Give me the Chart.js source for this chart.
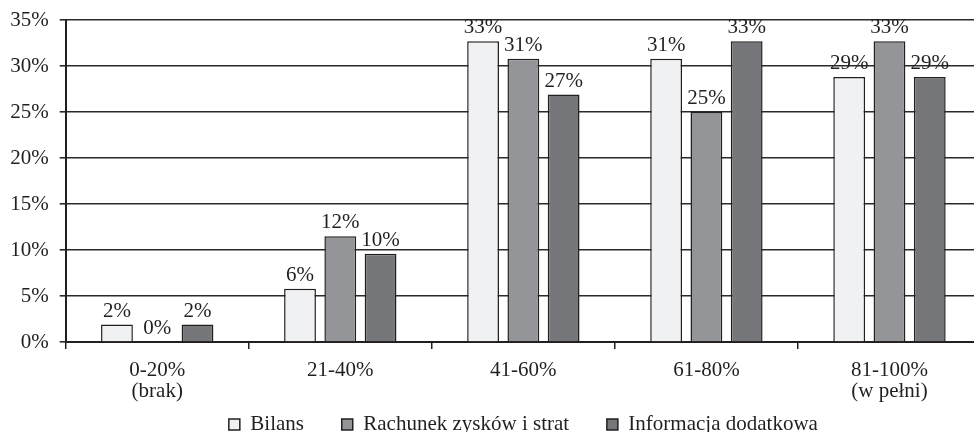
<!DOCTYPE html>
<html>
<head>
<meta charset="utf-8">
<script src="https://cdn.jsdelivr.net/npm/chart.js@4/dist/chart.umd.min.js"></script>
<style>
  body { margin: 0; overflow: hidden; background: #fff; }
  #wrap { width: 1046px; height: 432px; }
</style>
</head>
<body>
<div id="wrap"><canvas id="chart" width="1046" height="432"></canvas></div>
<script>
const categories = [['0-20%', '(brak)'], '21-40%', '41-60%', '61-80%', ['81-100%', '(w pełni)']];
const bilans = [1.9, 5.8, 32.7, 30.8, 28.8];
const rachunek = [0, 11.5, 30.8, 25.0, 32.7];
const informacja = [1.9, 9.6, 26.9, 32.7, 28.8];
const seriesNames = ['Bilans', 'Rachunek zysków i strat', 'Informacja dodatkowa'];
const yTicks = [0, 5, 10, 15, 20, 25, 30, 35];

const ink = '#231f20';
const serif = '"Liberation Serif", "Times New Roman", serif';

// value labels above each bar
const barLabels = {
  id: 'barLabels',
  afterDatasetsDraw(chart) {
    const ctx = chart.ctx;
    ctx.save();
    ctx.font = '21px ' + serif;
    ctx.fillStyle = ink;
    ctx.textAlign = 'center';
    ctx.textBaseline = 'alphabetic';
    chart.data.datasets.forEach((ds, i) => {
      chart.getDatasetMeta(i).data.forEach((bar, j) => {
        ctx.fillText(Math.round(ds.data[j]) + '%', bar.x, bar.y - 8);
      });
    });
    ctx.restore();
  }
};

// legend centred under the plot area, not the whole canvas
const centerLegend = {
  id: 'centerLegend',
  afterLayout(chart) {
    const lg = chart.legend, ca = chart.chartArea;
    const dx = (ca.left + ca.right) / 2 - (lg.left + lg.right) / 2;
    lg.left += dx;
    lg.right += dx;
  }
};

new Chart(document.getElementById('chart'), {
  type: 'bar',
  data: {
    labels: categories,
    datasets: [
      { label: seriesNames[0], data: bilans, backgroundColor: '#f0f1f3' },
      { label: seriesNames[1], data: rachunek, backgroundColor: '#949598' },
      { label: seriesNames[2], data: informacja, backgroundColor: '#76777a' }
    ]
  },
  options: {
    responsive: false,
    animation: false,
    layout: { padding: { left: 10, right: 65, top: 20, bottom: -13 } },
    datasets: {
      bar: {
        borderColor: ink,
        borderWidth: 1.5,
        categoryPercentage: 0.66,
        barPercentage: 0.79
      }
    },
    scales: {
      x: {
        grid: { display: true, drawOnChartArea: false, color: ink, lineWidth: 1.5, tickLength: 7, offset: true },
        border: { color: ink, width: 2 },
        ticks: { color: ink, padding: 11, maxRotation: 0, font: { family: serif, size: 21, lineHeight: 1.0 } }
      },
      y: {
        min: 0,
        max: 35,
        afterFit(scale) {
          scale.width = 55.7;
          scale.paddingTop = 0;
          scale.paddingBottom = 0;
        },
        afterBuildTicks(scale) { scale.ticks = yTicks.map(v => ({ value: v })); },
        grid: { color: '#2a2a2a', lineWidth: 1.6, tickLength: 6 },
        border: { color: ink, width: 2 },
        ticks: { color: ink, padding: 11, font: { family: serif, size: 21 }, callback: v => v + '%' }
      }
    },
    plugins: {
      tooltip: { enabled: false },
      legend: {
        position: 'bottom',
        labels: {
          color: ink,
          font: { family: serif, size: 21 },
          boxWidth: 11,
          boxHeight: 11,
          padding: 1,
          generateLabels(chart) {
            const items = Chart.defaults.plugins.legend.labels.generateLabels(chart);
            items.forEach((it, i) => {
              it.lineWidth = 1.5;
              it.strokeStyle = ink;
              if (i < items.length - 1) it.text = it.text + '\u00a0\u00a0\u00a0\u00a0\u00a0\u00a0\u00a0';
            });
            return items;
          }
        }
      }
    }
  },
  plugins: [barLabels, centerLegend]
});
</script>
</body>
</html>
